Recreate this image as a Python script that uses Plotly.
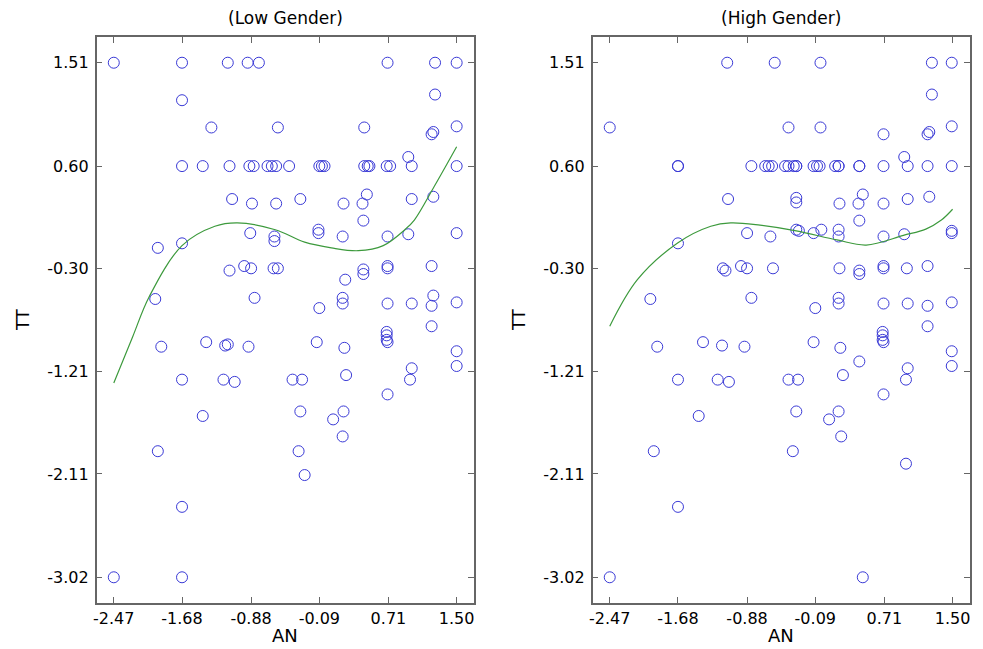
import plotly.graph_objects as go

# ---------------- data ----------------
x_ticks = [-2.47, -1.68, -0.88, -0.09, 0.71, 1.50]
y_ticks = [-3.02, -2.11, -1.21, -0.30, 0.60, 1.51]
panel_titles = ["(Low Gender)", "(High Gender)"]

low_an = [-2.47, -1.68, -1.15, -0.92, -0.79, 0.70, 1.25, 1.50,
          -1.68, 1.25,
          -1.34, -0.57, 0.43, 1.50, 1.21, 1.23,
          0.94,
          -1.68, -1.44, -1.13, -0.90, -0.85, -0.69, -0.64, -0.59, -0.44, -0.09, -0.06, -0.03, 0.43, 0.47, 0.49, 0.69, 0.73, 0.98, 1.50,
          -1.10, -0.31, 0.98,
          -0.87, -0.59, 0.19, 0.41,
          0.46, 1.23, 0.42,
          -0.10, -0.10, -0.89, 1.50,
          -0.61, -0.61, -1.96, -1.68, 0.18, 0.70, 0.94,
          -1.13, -0.96, -0.88, -0.62, -0.57,
          0.21, 0.42, 0.42, 0.70, 0.70, 1.21,
          -1.99, -0.84, -0.09, 0.18, 0.18, 0.70, 0.98, 1.23, 1.21, 1.50,
          1.21,
          -1.92, -0.91, -1.40, -0.12, -1.18, -1.15, 0.20,
          0.69, 0.69, 0.69, 0.70,
          1.50, 1.50,
          -1.68, -1.20, -0.40, -0.29, 0.96, -1.07, 0.22, 0.98,
          0.70, -1.44, -0.31, 0.19, 0.07, 0.18,
          -1.96, -0.33, -0.26, -1.68, -2.47, -1.68]
low_tt = [1.51, 1.51, 1.51, 1.51, 1.51, 1.51, 1.51, 1.51,
          1.18, 1.23,
          0.94, 0.94, 0.94, 0.95, 0.88, 0.90,
          0.68,
          0.60, 0.60, 0.60, 0.60, 0.60, 0.60, 0.60, 0.60, 0.60, 0.60, 0.60, 0.60, 0.60, 0.60, 0.60, 0.60, 0.60, 0.60, 0.60,
          0.31, 0.31, 0.31,
          0.27, 0.27, 0.27, 0.27,
          0.35, 0.33, 0.12,
          0.04, 0.01, 0.01, 0.01,
          -0.02, -0.06, -0.12, -0.08, -0.02, -0.02, 0.00,
          -0.32, -0.28, -0.30, -0.30, -0.30,
          -0.40, -0.31, -0.35, -0.28, -0.30, -0.28,
          -0.57, -0.56, -0.65, -0.56, -0.61, -0.61, -0.61, -0.54, -0.63, -0.60,
          -0.81,
          -0.99, -0.99, -0.95, -0.95, -0.98, -0.97, -1.00,
          -0.86, -0.89, -0.93, -0.95,
          -1.03, -1.16,
          -1.28, -1.28, -1.28, -1.28, -1.28, -1.30, -1.24, -1.18,
          -1.41, -1.60, -1.56, -1.56, -1.63, -1.78,
          -1.91, -1.91, -2.12, -2.40, -3.02, -3.02]

high_an = [-1.11, -0.56, -0.03, 1.26, 1.49,
           1.26,
           -2.47, -0.40, -0.03, 0.70, 1.21, 1.23, 1.49,
           0.94,
           -1.68, -1.68, -0.83, -0.67, -0.63, -0.59, -0.44, -0.40, -0.34, -0.31, -0.31, -0.11, -0.07, -0.04, 0.14, 0.18, 0.18, 0.42, 0.42, 0.70, 0.98, 1.21, 1.49,
           -1.10, -0.31, -0.31, 0.19, 0.41, 0.46, 0.70, 0.98, 1.23, 0.42,
           -1.68, -0.88, -0.61,
           -0.31, -0.28, -0.11, -0.02, 0.18, 0.18, 0.70, 0.94, 1.49, 1.49,
           -1.16, -1.13, -0.95, -0.88, -0.58,
           0.19, 0.42, 0.42, 0.70, 0.70, 0.97, 1.21,
           -2.00, -0.83, -0.09, 0.18, 0.18, 0.70, 0.98, 1.21, 1.49, 1.21,
           -1.92, -1.39, -1.17, -0.91, -0.11, 0.20,
           0.69, 0.69, 0.69, 0.70,
           1.49, 1.49,
           -1.68, -1.22, -1.09, -0.40, -0.29, 0.42, 0.23, 0.98, 0.96,
           0.70, -1.44, -0.31, 0.18, 0.07, 0.21,
           -1.96, -0.35, 0.96, -1.68, -2.47, 0.46]
high_tt = [1.51, 1.51, 1.51, 1.51, 1.51,
           1.23,
           0.94, 0.94, 0.94, 0.88, 0.88, 0.90, 0.95,
           0.68,
           0.60, 0.60, 0.60, 0.60, 0.60, 0.60, 0.60, 0.60, 0.60, 0.60, 0.60, 0.60, 0.60, 0.60, 0.60, 0.60, 0.60, 0.60, 0.60, 0.60, 0.60, 0.60, 0.60,
           0.31, 0.32, 0.28, 0.27, 0.27, 0.35, 0.27, 0.31, 0.33, 0.12,
           -0.08, 0.01, -0.02,
           0.04, 0.03, 0.01, 0.04, 0.04, -0.02, -0.02, 0.00, 0.03, 0.01,
           -0.30, -0.32, -0.28, -0.30, -0.30,
           -0.30, -0.32, -0.35, -0.28, -0.30, -0.30, -0.28,
           -0.57, -0.56, -0.65, -0.56, -0.61, -0.61, -0.61, -0.63, -0.60, -0.81,
           -0.99, -0.95, -0.98, -0.99, -0.95, -1.00,
           -0.86, -0.89, -0.93, -0.95,
           -1.03, -1.16,
           -1.28, -1.28, -1.30, -1.28, -1.28, -1.12, -1.24, -1.18, -1.28,
           -1.41, -1.60, -1.56, -1.56, -1.63, -1.78,
           -1.91, -1.91, -2.02, -2.40, -3.02, -3.02]

# fitted curves
low_fit_an = [-2.47, -2.25, -2.06, -1.68, -1.30, -1.04, -0.60, -0.26, 0.05, 0.36, 0.65, 0.90, 1.01, 1.24, 1.50]
low_fit_tt = [-1.31, -0.90, -0.55, -0.10, 0.07, 0.10, 0.04, -0.07, -0.12, -0.145, -0.10, 0.04, 0.125, 0.42, 0.77]
high_fit_an = [-2.47, -2.15, -1.68, -1.30, -1.07, -0.73, -0.31, 0.16, 0.50, 0.93, 1.19, 1.37, 1.50]
high_fit_tt = [-0.81, -0.40, -0.075, 0.07, 0.10, 0.08, 0.03, -0.05, -0.095, -0.01, 0.045, 0.125, 0.22]

# ---------------- figure ----------------
# the page adds an 8px body margin, so the figure is drawn 8px smaller
OFF = 8
W, H = 983 - OFF, 649 - OFF
marker_color = "#3a3ad6"
curve_color = "#3d9a3d"
frame_color = "#666666"
font = "DejaVu Sans, Arial, sans-serif"

fig = go.Figure()
panels = [(low_an, low_tt, low_fit_an, low_fit_tt), (high_an, high_tt, high_fit_an, high_fit_tt)]
for i, (sx, sy, cx, cy) in enumerate(panels):
    xa = "x" if i == 0 else "x2"
    ya = "y" if i == 0 else "y2"
    fig.add_trace(go.Scatter(x=sx, y=sy, mode="markers", xaxis=xa, yaxis=ya,
                             marker=dict(symbol="circle-open", size=11,
                                         color=marker_color, line=dict(width=1, color=marker_color)),
                             showlegend=False, hoverinfo="x+y"))
    fig.add_trace(go.Scatter(x=cx, y=cy, mode="lines", xaxis=xa, yaxis=ya, line_shape="spline",
                             line=dict(color=curve_color, width=1.2), showlegend=False))

x_pad = (x_ticks[-1] - x_ticks[0]) * 0.05
y_pad = (y_ticks[-1] - y_ticks[0]) * 0.05
xr = [x_ticks[0] - x_pad, x_ticks[-1] + x_pad]
yr = [y_ticks[0] - y_pad, y_ticks[-1] + y_pad]

# plot boxes in page pixels (reference): top 37, bottom 603; left 94-472.7, right 592-970.7
top_px, bot_px = 37 - OFF, 603 - OFF
ydom = [(H - bot_px) / H, (H - top_px) / H]
xdoms = [[(94 - OFF) / W, (472.7 - OFF) / W], [(592 - OFF) / W, (970.7 - OFF) / W]]

common_axis = dict(showgrid=False, zeroline=False, showline=True, linecolor=frame_color, linewidth=1.5,
                   mirror="ticks", ticks="inside", ticklen=6, tickwidth=1.2, tickcolor=frame_color,
                   tickfont=dict(family=font, size=16, color="black"))

layout = dict(width=W, height=H, margin=dict(l=0, r=0, t=0, b=0),
              paper_bgcolor="white", plot_bgcolor="white", showlegend=False)
for i in range(2):
    sfx = "" if i == 0 else "2"
    layout["xaxis" + sfx] = dict(common_axis, domain=xdoms[i], range=xr, tickvals=x_ticks,
                                 ticktext=[f"{v:.2f}" for v in x_ticks], anchor="y" + sfx,
                                 ticklabelstandoff=0)
    layout["yaxis" + sfx] = dict(common_axis, domain=ydom, range=yr, tickvals=y_ticks,
                                 ticktext=[f"{v:.2f}" for v in y_ticks], anchor="x" + sfx,
                                 ticklabelstandoff=3)
fig.update_layout(**layout)

annotations = []
for i in range(2):
    cxp = (xdoms[i][0] + xdoms[i][1]) / 2
    annotations.append(dict(text=panel_titles[i], x=cxp, y=1 - (18 - OFF) / H, xref="paper", yref="paper",
                            showarrow=False, font=dict(family=font, size=17, color="black"),
                            xanchor="center", yanchor="middle"))
    annotations.append(dict(text="AN", x=cxp, y=1 - (635 - OFF) / H, xref="paper", yref="paper",
                            showarrow=False, font=dict(family=font, size=18, color="black"),
                            xanchor="center", yanchor="middle"))
    annotations.append(dict(text="TT", x=(xdoms[i][0] * W - 74) / W, y=(ydom[0] + ydom[1]) / 2,
                            xref="paper", yref="paper", textangle=-90,
                            showarrow=False, font=dict(family=font, size=17, color="black"),
                            xanchor="center", yanchor="middle"))
fig.update_layout(annotations=annotations)

fig.write_html("out.html")
